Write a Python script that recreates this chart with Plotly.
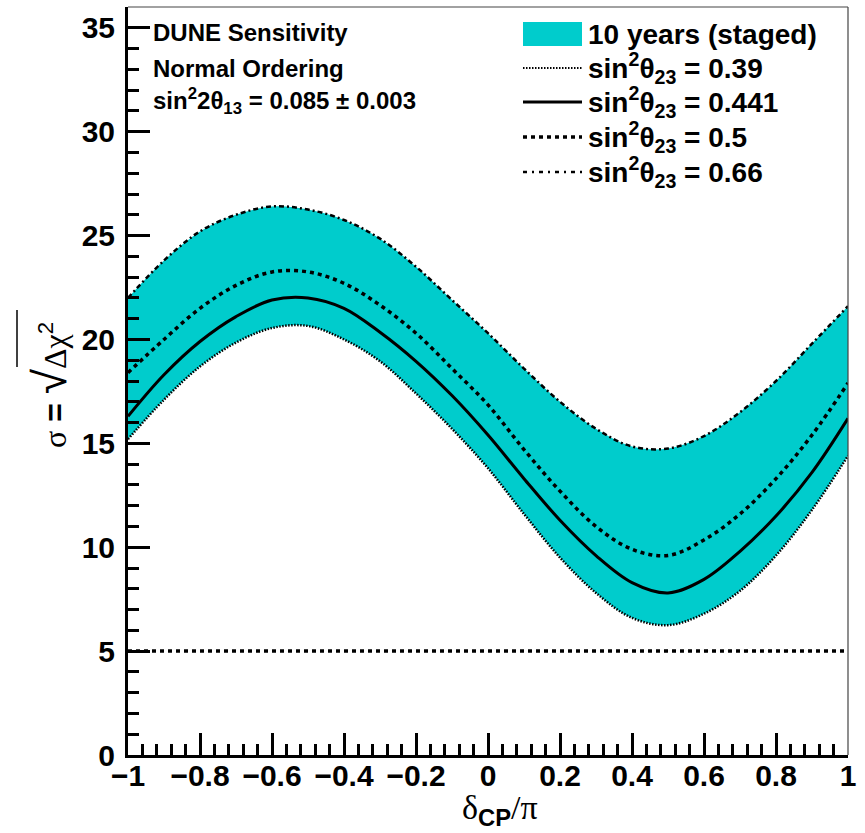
import plotly.graph_objects as go

# ---- data ----
delta_cp = [-1.0, -0.9, -0.8, -0.7, -0.6, -0.5, -0.4, -0.3, -0.2, -0.1, 0.0,
            0.1, 0.2, 0.3, 0.4, 0.5, 0.6, 0.7, 0.8, 0.9, 1.0]
sig_039 = [15.2, 17.1, 18.7, 19.85, 20.55, 20.65, 20.0, 18.95, 17.4, 15.7, 13.8,
           11.6, 9.5, 7.8, 6.6, 6.25, 6.8, 7.9, 9.6, 11.8, 14.4]
sig_0441 = [16.3, 18.3, 19.9, 21.1, 21.9, 22.0, 21.5, 20.35, 18.95, 17.3, 15.4,
            13.3, 11.3, 9.6, 8.3, 7.8, 8.45, 9.8, 11.5, 13.6, 16.2]
sig_050 = [18.4, 20.0, 21.5, 22.6, 23.25, 23.25, 22.7, 21.65, 20.3, 18.6, 16.85,
           14.7, 12.7, 11.0, 9.9, 9.6, 10.35, 11.6, 13.3, 15.4, 17.9]
sig_066 = [22.0, 23.8, 25.2, 26.0, 26.4, 26.25, 25.75, 24.85, 23.5, 21.9, 20.3,
           18.6, 17.0, 15.7, 14.85, 14.75, 15.35, 16.5, 18.0, 19.8, 21.6]
five_sigma_x = [-1.0, 1.0]
five_sigma_y = [5.0, 5.0]

legend_labels = ["10 years (staged)",
                 "sin<sup>2</sup>θ<sub>23</sub> = 0.39",
                 "sin<sup>2</sup>θ<sub>23</sub> = 0.441",
                 "sin<sup>2</sup>θ<sub>23</sub> = 0.5",
                 "sin<sup>2</sup>θ<sub>23</sub> = 0.66"]
info_lines = ["DUNE Sensitivity", "Normal Ordering",
              "sin<sup>2</sup>2θ<sub>13</sub> = 0.085 ± 0.003"]

# ---- layout geometry (pixels) ----
W, H = 865, 833
L, R, T, B = 128, 17, 7, 78
PW, PH = W - L - R, H - T - B


def px(x):
    return (x - L) / PW


def py(y):
    return (H - B - y) / PH


CYAN = "#00CCCC"
SM = 1.0
fig = go.Figure()

# band fill
fig.add_trace(go.Scatter(x=delta_cp, y=sig_039, mode="lines", line=dict(width=0, shape="spline", smoothing=SM),
                         showlegend=False, hoverinfo="skip"))
fig.add_trace(go.Scatter(x=delta_cp, y=sig_066, mode="lines", fill="tonexty", fillcolor=CYAN,
                         line=dict(width=0, shape="spline", smoothing=SM), showlegend=False, hoverinfo="skip"))
# curves
fig.add_trace(go.Scatter(x=delta_cp, y=sig_039, mode="lines", name="0.39",
                         line=dict(color="black", width=2.5, dash="1.5px,1.5px", shape="spline", smoothing=SM)))
fig.add_trace(go.Scatter(x=delta_cp, y=sig_066, mode="lines", name="0.66",
                         line=dict(color="black", width=2.5, dash="5px,3px,2px,3px", shape="spline", smoothing=SM)))
fig.add_trace(go.Scatter(x=delta_cp, y=sig_050, mode="lines", name="0.5",
                         line=dict(color="black", width=3.5, dash="4px,4px", shape="spline", smoothing=SM)))
fig.add_trace(go.Scatter(x=delta_cp, y=sig_0441, mode="lines", name="0.441",
                         line=dict(color="black", width=3, shape="spline", smoothing=SM)))
fig.add_trace(go.Scatter(x=five_sigma_x, y=five_sigma_y, mode="lines", name="5 sigma",
                         line=dict(color="black", width=3.5, dash="4px,4px")))

shapes = []
annotations = []

# thin top/right frame
shapes.append(dict(type="line", xref="paper", yref="paper", x0=0, x1=1, y0=1, y1=1,
                   line=dict(color="#444", width=1.2)))
shapes.append(dict(type="line", xref="paper", yref="paper", x0=1, x1=1, y0=0, y1=1,
                   line=dict(color="#444", width=1.2)))

# info text (top-left)
info_y = [32, 68, 101]
for txt, yy in zip(info_lines, info_y):
    annotations.append(dict(xref="paper", yref="paper", x=px(151), y=py(yy), xanchor="left", yanchor="middle",
                            text="<b>" + txt + "</b>", showarrow=False,
                            font=dict(family="Liberation Sans", size=24, color="black")))

# manual legend
leg_y = [34, 68, 102, 137, 172]
lx0, lx1 = 523, 582
shapes.append(dict(type="rect", xref="paper", yref="paper", x0=px(lx0), x1=px(lx1), y0=py(46), y1=py(22),
                   fillcolor=CYAN, line=dict(width=0)))
leg_styles = [dict(width=2, dash="1.5px,1.5px"), dict(width=3), dict(width=3.5, dash="4px,4px"),
              dict(width=2.5, dash="4px,5px,2px,5px")]
for st, yy in zip(leg_styles, leg_y[1:]):
    shapes.append(dict(type="line", xref="paper", yref="paper", x0=px(lx0), x1=px(lx1), y0=py(yy), y1=py(yy),
                       line=dict(color="black", **st)))
for txt, yy in zip(legend_labels, leg_y):
    annotations.append(dict(xref="paper", yref="paper", x=px(586), y=py(yy), xanchor="left", yanchor="middle",
                            text="<b>" + txt + "</b>", showarrow=False,
                            font=dict(family="Liberation Sans", size=28, color="black")))

# x-axis title
annotations.append(dict(xref="paper", yref="paper", x=px(500), y=py(810), xanchor="center", yanchor="middle",
                        text="<span style='font-family:Liberation Serif'>δ</span><sub><b>CP</b></sub>"
                             "<span style='font-family:Liberation Serif'>/π</span>",
                        showarrow=False, font=dict(family="Liberation Sans", size=34, color="black")))
# y-axis title
annotations.append(dict(xref="paper", yref="paper", x=px(50), y=py(385), xanchor="center", yanchor="middle",
                        textangle=-90,
                        text="<span style='font-family:Liberation Serif'>σ</span> <b>=</b> "
                             "<span style='font-size:46px'>√</span>"
                             "<span style='font-family:Liberation Serif'>Δχ</span><sup>2</sup>",
                        showarrow=False, font=dict(family="Liberation Sans", size=32, color="black")))
shapes.append(dict(type="line", xref="paper", yref="paper", x0=px(17), x1=px(17), y0=py(367), y1=py(310),
                   line=dict(color="black", width=1.5)))

fig.update_layout(
    width=W, height=H,
    margin=dict(l=L, r=R, t=T, b=B),
    plot_bgcolor="white", paper_bgcolor="white",
    showlegend=False,
    shapes=shapes, annotations=annotations,
    xaxis=dict(range=[-1, 1], dtick=0.2, tick0=-1, showgrid=False, zeroline=False,
               showline=True, linewidth=3, linecolor="black",
               ticks="inside", ticklen=22, tickwidth=3, tickcolor="black",
               minor=dict(ticks="inside", ticklen=11, tickwidth=3, dtick=0.04, tick0=-1, tickcolor="black"),
               tickfont=dict(family="Liberation Sans", size=30, color="black", weight="bold"),
               ticklabelstandoff=-8),
    yaxis=dict(range=[0, 36], dtick=5, tick0=0, showgrid=False, zeroline=False,
               showline=True, linewidth=3, linecolor="black",
               ticks="inside", ticklen=22, tickwidth=3, tickcolor="black",
               minor=dict(ticks="inside", ticklen=11, tickwidth=3, dtick=1, tick0=0, tickcolor="black"),
               tickfont=dict(family="Liberation Sans", size=30, color="black", weight="bold"),
               ticklabelstandoff=4),
)

fig.write_html("out.html")
